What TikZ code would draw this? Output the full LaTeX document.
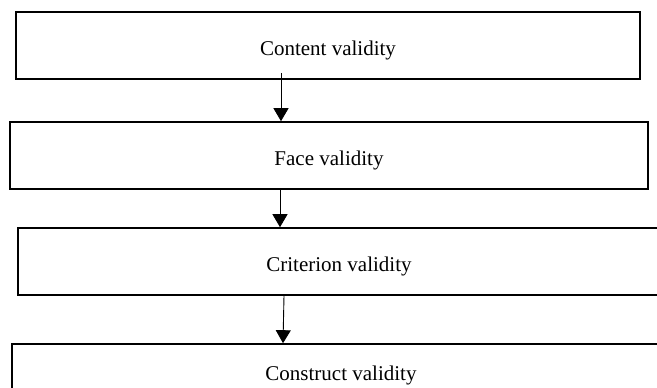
\documentclass[tikz,border=0pt]{standalone}
\usepackage{fontspec}
\setmainfont{Liberation Serif}
\usetikzlibrary{arrows.meta}
\begin{document}
\begin{tikzpicture}[x=1pt,y=-1pt,
		valbox/.style={draw,line width=1.6pt,inner sep=0pt,font=\fontsize{21}{25}\selectfont,text height=19pt,text depth=0pt,minimum height=67pt},
		valarrow/.style={line width=0.9pt,-{Triangle[width=15pt,length=13pt]}}]
				\clip (0,0) rectangle (657,388);
				\node[valbox,minimum width=624pt] (content) at (328,45.5) {Content validity};
				\node[valbox,minimum width=638pt] (face) at (329,155.5) {Face validity};
				\node[valbox,minimum width=642pt] (criterion) at (339,261.5) {Criterion validity};
				\node[valbox,minimum width=658pt,minimum height=53pt] (construct) at (341,370.5) {Construct validity};
				\draw[valarrow] ([xshift=-47pt,yshift=7pt]content.south) -- ([xshift=-48pt]face.north);
				\draw[valarrow] ([xshift=-49pt]face.south) -- ([xshift=-59pt]criterion.north);
				\draw[valarrow] ([xshift=-55pt]criterion.south) -- ([xshift=-58pt]construct.north);
			\end{tikzpicture}
\end{document}
